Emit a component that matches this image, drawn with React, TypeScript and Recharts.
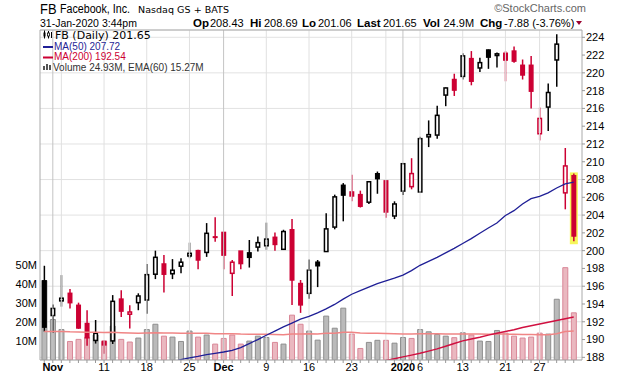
import React from 'react';
import { ComposedChart, Bar, Line, XAxis, YAxis, ReferenceLine, CartesianGrid, Cell } from 'recharts';

const dates = [
  'Oct 31',
  'Nov 1', 'Nov 4', 'Nov 5', 'Nov 6', 'Nov 7', 'Nov 8', 'Nov 11', 'Nov 12', 'Nov 13', 'Nov 14', 'Nov 15',
  'Nov 18', 'Nov 19', 'Nov 20', 'Nov 21', 'Nov 22', 'Nov 25', 'Nov 26', 'Nov 27', 'Nov 29',
  'Dec 2', 'Dec 3', 'Dec 4', 'Dec 5', 'Dec 6', 'Dec 9', 'Dec 10', 'Dec 11', 'Dec 12', 'Dec 13',
  'Dec 16', 'Dec 17', 'Dec 18', 'Dec 19', 'Dec 20', 'Dec 23', 'Dec 24', 'Dec 26', 'Dec 27', 'Dec 30', 'Dec 31',
  'Jan 2', 'Jan 3', 'Jan 6', 'Jan 7', 'Jan 8', 'Jan 9', 'Jan 10', 'Jan 13', 'Jan 14', 'Jan 15', 'Jan 16', 'Jan 17',
  'Jan 21', 'Jan 22', 'Jan 23', 'Jan 24', 'Jan 27', 'Jan 28', 'Jan 29', 'Jan 30', 'Jan 31',
];

const opens = [
  196.6, 192.7, 194.35, 195.2, 193.85, 191.8, 189.9, 189.8, 189.85, 194.55,
  192.85, 194.15, 194.45, 197.35, 198.5, 197.4, 198.25, 199.4, 200.0, 199.8,
  201.55, 202.05, 197.45, 199.95, 199.75, 200.4, 200.55, 201.5, 200.15, 202.35,
  196.3, 195.2, 198.7, 199.9, 202.65, 207.35, 206.6, 206.3, 205.45, 208.65,
  207.85, 203.9, 206.7, 207.2, 206.6, 212.8, 213.0, 217.5, 219.25, 219.6,
  221.6, 220.55, 222.57, 221.95, 222.2, 222.45, 220.85, 220.85, 213.15, 216.15,
  221.45, 206.5, 208.43,
];
const highs = [
  198.3, 193.95, 197.25, 195.7, 194.15, 193.3, 192.2, 189.9, 195.0, 195.55,
  193.85, 195.2, 198.5, 200.0, 199.5, 199.05, 199.15, 200.9, 200.1, 203.1,
  203.75, 202.1, 198.95, 199.95, 201.2, 201.6, 203.15, 202.05, 202.35, 203.55,
  196.7, 199.0, 198.95, 204.2, 206.3, 207.6, 208.55, 206.75, 207.75, 208.9,
  207.9, 205.55, 209.8, 210.4, 212.8, 214.65, 216.3, 218.35, 219.9, 222.2,
  222.45, 221.7, 222.63, 222.3, 222.45, 222.95, 221.5, 221.9, 216.1, 218.8,
  224.35, 211.55, 208.69,
];
const lows = [
  190.9, 190.75, 193.7, 193.5, 191.2, 189.3, 189.55, 188.4, 189.5, 192.55,
  191.25, 193.3, 192.9, 196.8, 195.3, 196.8, 197.45, 199.15, 197.9, 199.3,
  201.0, 197.9, 194.9, 197.9, 198.1, 199.9, 200.1, 200.0, 200.1, 193.9,
  193.0, 194.6, 195.9, 199.9, 202.4, 203.3, 205.55, 204.85, 205.25, 206.4,
  203.7, 203.55, 206.25, 206.9, 206.5, 211.65, 212.6, 216.25, 217.4, 219.25,
  218.6, 220.1, 220.45, 220.6, 219.05, 221.15, 219.25, 216.0, 212.4, 213.45,
  218.45, 204.65, 201.06,
];
const closes = [
  191.4, 193.5, 194.65, 194.15, 191.3, 190.2, 190.7, 189.4, 194.3, 193.2,
  193.1, 194.9, 197.3, 199.25, 197.35, 197.8, 198.7, 199.7, 198.95, 201.95,
  201.5, 199.5, 198.7, 198.55, 199.25, 200.9, 201.3, 200.7, 202.15, 196.7,
  193.9, 197.8, 198.3, 202.45, 206.05, 206.25, 206.15, 205.0, 207.75, 208.1,
  204.35, 205.25, 209.78, 208.67, 212.6, 213.05, 215.22, 218.3, 218.06, 221.91,
  219.06, 221.15, 221.77, 222.14, 221.44, 221.32, 219.76, 217.94, 214.87, 217.79,
  223.23, 209.53, 201.65,
];
// volume in millions
const volumes = [
  42.0, 21.4, 16.1, 9.8, 10.9, 12.0, 13.2, 9.8, 17.9, 10.9,
  9.5, 11.6, 16.1, 18.9, 12.6, 12.1, 9.8, 15.3, 12.1, 13.2,
  8.4, 11.4, 13.2, 8.4, 10.0, 12.6, 11.9, 9.3, 8.4, 23.7,
  18.9, 15.3, 10.5, 23.2, 16.8, 27.4, 13.7, 6.1, 9.3, 10.4,
  10.4, 8.9, 11.9, 11.4, 16.1, 14.9, 13.5, 12.6, 11.8, 14.4,
  13.2, 10.0, 9.8, 15.6, 14.2, 12.6, 11.6, 12.1, 14.2, 13.7,
  32.1, 48.8, 24.93,
];
const ma50 = [
  null, null, null, null, null, null, null, null, null, null,
  null, null, null, null, null, 187.45, 187.75, 187.95, 188.1, 188.3,
  188.45, 188.6, 188.78, 189.1, 189.55, 190.0, 190.48, 190.95, 191.42, 191.85,
  192.3, 192.6, 193.0, 193.45, 193.95, 194.55, 195.1, 195.5, 195.9, 196.3,
  196.6, 196.9, 197.25, 197.75, 198.35, 198.8, 199.25, 199.75, 200.25, 200.8,
  201.35, 201.95, 202.55, 203.1, 203.95, 204.5, 205.25, 205.85, 206.1, 206.5,
  207.05, 207.5, 207.72,
];
const ma200 = [
  null, null, null, null, null, null, null, null, null, null,
  null, null, null, null, null, null, null, null, null, null,
  null, null, null, null, null, null, null, null, null, null,
  null, null, null, null, null, null, null, null, 187.25, 187.45,
  187.65, 187.85, 188.05, 188.25, 188.45, 188.7, 188.95, 189.25, 189.55, 189.85,
  190.05, 190.25, 190.5, 190.7, 190.9, 191.1, 191.35, 191.55, 191.75, 191.95,
  192.15, 192.35, 192.54,
];
const volEma60 = [
  15.0, 15.1, 15.1, 14.9, 14.8, 14.7, 14.7, 14.5, 14.6, 14.4,
  14.3, 14.2, 14.3, 14.4, 14.3, 14.3, 14.2, 14.2, 14.1, 14.1,
  13.9, 13.9, 13.9, 13.7, 13.6, 13.6, 13.6, 13.5, 13.4, 13.7,
  13.8, 13.9, 13.8, 14.1, 14.2, 14.6, 14.6, 14.3, 14.2, 14.1,
  14.0, 13.9, 13.8, 13.8, 13.9, 13.9, 13.9, 13.8, 13.8, 13.8,
  13.8, 13.7, 13.6, 13.7, 13.7, 13.6, 13.5, 13.5, 13.4, 13.4,
  13.9, 15.0, 15.27,
];

const tickLabels: Record<string, string> = {
  'Nov 1': 'Nov', 'Nov 11': '11', 'Nov 18': '18', 'Nov 25': '25',
  'Dec 2': 'Dec', 'Dec 9': '9', 'Dec 16': '16', 'Dec 23': '23',
  'Jan 2': '2020', 'Jan 6': '6', 'Jan 13': '13', 'Jan 21': '21', 'Jan 27': '27',
};
const monthStarts = ['Nov 1', 'Dec 2', 'Jan 2'];
const weekStarts = ['Nov 4', 'Nov 11', 'Nov 18', 'Nov 25', 'Dec 9', 'Dec 16', 'Dec 23', 'Dec 30', 'Jan 6', 'Jan 13', 'Jan 21', 'Jan 27'];
const priceTicks = [188, 190, 192, 194, 196, 198, 200, 202, 204, 206, 208, 210, 212, 214, 216, 218, 220, 222, 224];
const volumeTicks = [10, 20, 30, 40, 50];
const PRICE_DOMAIN: [number, number] = [187.7, 224.82];
const VOLUME_DOMAIN: [number, number] = [0, 174.4];

const RED = '#cc0033';
const NAVY = '#1f1f96';
const FONT = '"Liberation Sans", Arial, sans-serif';

const data = dates.map((d, i) => ({
  date: d,
  open: opens[i],
  high: highs[i],
  low: lows[i],
  close: closes[i],
  range: [lows[i], highs[i]],
  volume: volumes[i],
  ma50: ma50[i],
  ma200: ma200[i],
  ema: volEma60[i],
  up: i === 0 ? true : closes[i] >= closes[i - 1],
  last: i === dates.length - 1,
}));

const Candle = (props: any) => {
  const { x, y, width, height, payload } = props;
  if (x == null || y == null) return null;
  const top = Math.min(y, y + height);
  const bot = Math.max(y, y + height);
  const { open, close, high, low } = payload;
  const toY = (p: number) => top + ((high - p) / (high - low)) * (bot - top);
  const color = payload.up ? '#000' : RED;
  const hollow = close >= open;
  const bTop = toY(Math.max(open, close));
  const bBot = toY(Math.min(open, close));
  const cx = x + width / 2;
  return (
    <g>
      {payload.last && (
        <rect x={x - 1.5} y={top - 1} width={width + 3} height={bot - top + 4} fill="#f6f65a" />
      )}
      <line x1={cx} x2={cx} y1={top} y2={bot} stroke={color} strokeWidth={1.5} />
      <rect
        x={x + 0.75}
        y={bTop}
        width={width - 1.5}
        height={Math.max(bBot - bTop, 0.5)}
        fill={hollow ? '#fff' : color}
        stroke={color}
        strokeWidth={1.5}
      />
    </g>
  );
};

const DateTick = (props: any) => {
  const { x, y, payload } = props;
  const label = tickLabels[payload.value];
  if (!label) return null;
  const bold = monthStarts.includes(payload.value);
  return (
    <text x={x} y={y} dy={7} textAnchor="middle" fontSize={11} fontWeight={bold ? 'bold' : 'normal'} fill="#000" fontFamily={FONT}>
      {label}
    </text>
  );
};

const last = data.length - 1;
const chg = closes[last] - closes[last - 1];
const chgPct = (chg / closes[last - 1]) * 100;

export default function App() {
  return (
    <div style={{ position: 'absolute', left: 0, top: 0, width: 620, height: 376, background: '#fff', fontFamily: FONT }}>
      <ComposedChart
        width={620}
        height={376}
        data={data}
        margin={{ top: 30, right: 0, bottom: 0, left: 0 }}
        barCategoryGap="22%"
      >
        <XAxis
          xAxisId="x"
          dataKey="date"
          interval={0}
          height={16}
          padding={{ left: 0, right: 4 }}
          tickSize={3}
          tickMargin={1}
          axisLine={{ stroke: '#aaa' }}
          tickLine={{ stroke: '#999' }}
          tick={<DateTick />}
        />
        <XAxis xAxisId="x2" dataKey="date" hide padding={{ left: 0, right: 4 }} />
        <YAxis
          yAxisId="vol"
          orientation="left"
          type="number"
          domain={VOLUME_DOMAIN}
          ticks={volumeTicks}
          allowDataOverflow
          width={40}
          tickSize={0}
          tickMargin={3}
          tickLine={false}
          axisLine={{ stroke: '#aaa' }}
          tickFormatter={(v: number) => `${v}M`}
          tick={{ fontSize: 11, fill: '#000', fontFamily: FONT }}
        />
        <YAxis
          yAxisId="price"
          orientation="right"
          type="number"
          domain={PRICE_DOMAIN}
          ticks={priceTicks}
          allowDataOverflow
          width={38}
          tickSize={3}
          tickMargin={1}
          axisLine={{ stroke: '#aaa' }}
          tickLine={{ stroke: '#999' }}
          tick={{ fontSize: 11, fill: '#000', fontFamily: FONT }}
        />
        <CartesianGrid xAxisId="x" yAxisId="price" vertical={false} stroke="#e2e2e2" />
        {weekStarts.map((d) => (
          <ReferenceLine key={'w' + d} xAxisId="x" yAxisId="price" x={d} stroke="#e0e0e0" />
        ))}
        {monthStarts.map((d) => (
          <ReferenceLine key={'m' + d} xAxisId="x" yAxisId="price" x={d} stroke="#c4c4c4" />
        ))}
        <Bar xAxisId="x2" yAxisId="vol" dataKey="volume" isAnimationActive={false}>
          {data.map((d, i) => (
            <Cell key={i} fill={d.up ? '#bababa' : '#eab8c0'} stroke={d.up ? '#8e8e8e' : '#d98797'} strokeWidth={1} />
          ))}
        </Bar>
        <Line xAxisId="x2" yAxisId="vol" dataKey="ema" stroke="#f08585" strokeWidth={1.5} dot={false} isAnimationActive={false} />
        <Bar xAxisId="x" yAxisId="price" dataKey="range" shape={<Candle />} isAnimationActive={false} />
        <Line xAxisId="x" yAxisId="price" dataKey="ma200" stroke="#d01040" strokeWidth={1.5} dot={false} isAnimationActive={false} />
        <Line xAxisId="x" yAxisId="price" dataKey="ma50" stroke={NAVY} strokeWidth={1.3} dot={false} isAnimationActive={false} />
        <ReferenceLine xAxisId="x" yAxisId="price" y={PRICE_DOMAIN[1]} stroke="#aaa" />
      </ComposedChart>
      <svg width={620} height={376} style={{ position: 'absolute', left: 0, top: 0, pointerEvents: 'none' }}>
        <text x={40} y={13.5} fontSize={14} textLength={16.5} lengthAdjust="spacingAndGlyphs" fill="#000" fontFamily={FONT}>FB</text>
        <text x={60} y={13} fontSize={12} textLength={70} lengthAdjust="spacingAndGlyphs" fill="#000" fontFamily={FONT}>Facebook, Inc.</text>
        <text x={138} y={12.5} fontSize={9.5} textLength={91} lengthAdjust="spacing" fill="#000" fontFamily='"DejaVu Sans", sans-serif'>Nasdaq GS + BATS</text>
        <text x={586} y={12} textAnchor="end" fontSize={11} fill="#666" fontFamily={FONT}>©StockCharts.com</text>
        <text x={40} y={27} fontSize={10.5} fill="#000" fontFamily={FONT}>31-Jan-2020 3:44pm</text>
        <g fontFamily={FONT} fill="#000">
          <text x={193} y={27} fontSize={11.5} fontWeight="bold">Op</text>
          <text x={210} y={27} fontSize={11}>{opens[last].toFixed(2)}</text>
          <text x={250} y={27} fontSize={11.5} fontWeight="bold">Hi</text>
          <text x={264} y={27} fontSize={11}>{highs[last].toFixed(2)}</text>
          <text x={302} y={27} fontSize={11.5} fontWeight="bold">Lo</text>
          <text x={318} y={27} fontSize={11}>{lows[last].toFixed(2)}</text>
          <text x={357} y={27} fontSize={11.5} fontWeight="bold">Last</text>
          <text x={383} y={27} fontSize={11}>{closes[last].toFixed(2)}</text>
          <text x={423} y={27} fontSize={11.5} fontWeight="bold">Vol</text>
          <text x={443.5} y={27} fontSize={11}>{`${volumes[last].toFixed(1)}M`}</text>
          <text x={480} y={27} fontSize={11.5} fontWeight="bold">Chg</text>
          <text x={504} y={27} fontSize={11}>{`${chg.toFixed(2)} (${chgPct.toFixed(2)}%)`}</text>
        </g>
        <polygon points="576,21 582,21 579,25" fill="#99002e" />
        {/* legend */}
        <g>
          <line x1={44.5} x2={44.5} y1={30.5} y2={38.5} stroke="#000" strokeWidth={1} />
          <rect x={43.5} y={32.5} width={2} height={4} fill="#000" />
          <line x1={48.5} x2={48.5} y1={31} y2={38.5} stroke="#000" strokeWidth={1} />
          <rect x={47.5} y={33} width={2} height={3} fill="#fff" stroke="#000" strokeWidth={0.8} />
          <line x1={51.5} x2={51.5} y1={32} y2={38} stroke="#000" strokeWidth={1} />
          <text x={55} y={38.5} fontSize={11} fill="#000" fontFamily='"DejaVu Sans", sans-serif'>{`FB (Daily) ${closes[last].toFixed(2)}`}</text>
          <rect x={43} y={46} width={10} height={2} fill={NAVY} />
          <text x={54} y={49.5} fontSize={10} fill={NAVY} fontFamily={FONT}>{`MA(50) ${(ma50[last] as number).toFixed(2)}`}</text>
          <rect x={43} y={56.5} width={10} height={2} fill={RED} />
          <text x={54} y={60} fontSize={10} fill={RED} fontFamily={FONT}>{`MA(200) ${(ma200[last] as number).toFixed(2)}`}</text>
          <rect x={43} y={66} width={2} height={4} fill="#555" />
          <rect x={46} y={64} width={2} height={6} fill="#555" />
          <rect x={49} y={65} width={2} height={5} fill="#555" />
          <text x={53} y={70.5} fontSize={10} fill="#333" fontFamily={FONT}>{`Volume ${volumes[last].toFixed(2)}M, EMA(60) ${volEma60[last].toFixed(2)}M`}</text>
        </g>
      </svg>
    </div>
  );
}
